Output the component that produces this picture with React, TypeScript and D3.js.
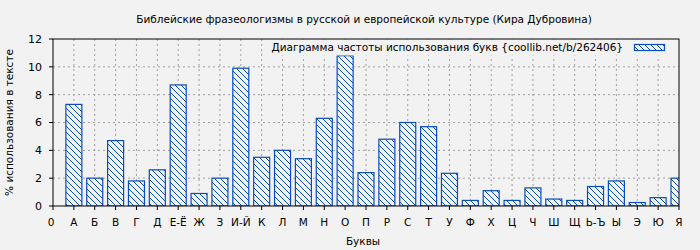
import React from "react";
import * as d3 from "d3";

const letters = ["А","Б","В","Г","Д","Е-Ё","Ж","З","И-Й","К","Л","М","Н","О","П","Р","С","Т","У","Ф","Х","Ц","Ч","Ш","Щ","Ь-Ъ","Ы","Э","Ю","Я"];
const values = [7.3,2.0,4.7,1.8,2.6,8.7,0.9,2.0,9.9,3.5,4.0,3.4,6.3,10.8,2.4,4.8,6.0,5.7,2.35,0.4,1.1,0.4,1.3,0.5,0.4,1.4,1.8,0.25,0.6,2.0];
const yTicks = [0,2,4,6,8,10,12];
const title = "Библейские фразеологизмы в русской и европейской культуре (Кира Дубровина)";
const legendLabel = "Диаграмма частоты использования букв {coollib.net/b/262406}";
const xTitle = "Буквы";
const yTitle = "% использования в тексте";

export default function App() {
  const W = 700, H = 250;
  const left = 53, right = 679, top = 39, bottom = 206;
  const x = d3.scaleLinear().domain([0, letters.length]).range([left, right]);
  const y = d3.scaleLinear().domain([0, 12]).range([bottom, top]);
  const bw = 16;
  const blue = "#0b4dbb";
  const font = "DejaVu Sans, sans-serif";
  const fs = 10.5;
  const xLabels = ["0", ...letters];
  return (
    <svg width={W} height={H} style={{ position: "absolute", left: 0, top: 0, background: "#f2f2f2" }} fontFamily={font}>
      <defs>
        <pattern id="hatch" patternUnits="userSpaceOnUse" width="6" height="6">
          <rect width="6" height="6" fill="#f2f2f2" />
          <path d="M-1,-1 L7,7 M-1,5 L1,7 M5,-1 L7,1" stroke={blue} strokeWidth="1" />
        </pattern>
        <clipPath id="plot">
          <rect x={left} y={top} width={right - left} height={bottom - top} />
        </clipPath>
      </defs>
      <rect width={W} height={H} fill="#f2f2f2" />
      {yTicks.slice(1, -1).map((t) => (
        <line key={"gy" + t} x1={left} x2={right} y1={y(t)} y2={y(t)} stroke="#a0a0a0" strokeDasharray="2,3" />
      ))}
      {xLabels.map((_, i) => i > 0 && i < xLabels.length - 1 ? (
        <line key={"gx" + i} x1={x(i)} x2={x(i)} y1={top} y2={bottom} stroke="#a0a0a0" strokeDasharray="2,3" />
      ) : null)}
      <g clipPath="url(#plot)">
        {values.map((v, i) => (
          <rect key={i} x={x(i + 1) - bw / 2} y={y(v)} width={bw} height={y(0) - y(v)} fill="url(#hatch)" stroke={blue} strokeWidth="1.2" />
        ))}
      </g>
      <rect x={266} y={top + 0.5} width={right - 266} height={16} fill="#f2f2f2" />
      <rect x={left} y={top} width={right - left} height={bottom - top} fill="none" stroke="#000" strokeWidth="1" />
      {yTicks.map((t) => (
        <g key={"yt" + t}>
          <line x1={left - 4} x2={left} y1={y(t)} y2={y(t)} stroke="#000" />
          <text x={left - 11} y={y(t)} dy="0.35em" textAnchor="end" fontSize={fs + 0.5} fill="#000">{t}</text>
        </g>
      ))}
      {xLabels.map((l, i) => (
        <g key={"xt" + i}>
          <line x1={x(i)} x2={x(i)} y1={bottom} y2={bottom + 4} stroke="#000" />
          <text x={x(i) - (i === 0 ? 2 : 0)} y={bottom + 20} textAnchor="middle" fontSize={fs} fill="#000">{l}</text>
        </g>
      ))}
      <text x={364} y={23} textAnchor="middle" fontSize={fs} fill="#000">{title}</text>
      <text x={363} y={245} textAnchor="middle" fontSize={fs} fill="#000">{xTitle}</text>
      <text transform={`translate(13,${(top + bottom) / 2}) rotate(-90)`} textAnchor="middle" fontSize={fs} fill="#000">{yTitle}</text>
      <text x={623} y={51} textAnchor="end" fontSize={fs} fill="#000">{legendLabel}</text>
      <rect x={634.5} y={44.5} width={30} height={6} fill="url(#hatch)" stroke={blue} strokeWidth="1.2" />
    </svg>
  );
}
